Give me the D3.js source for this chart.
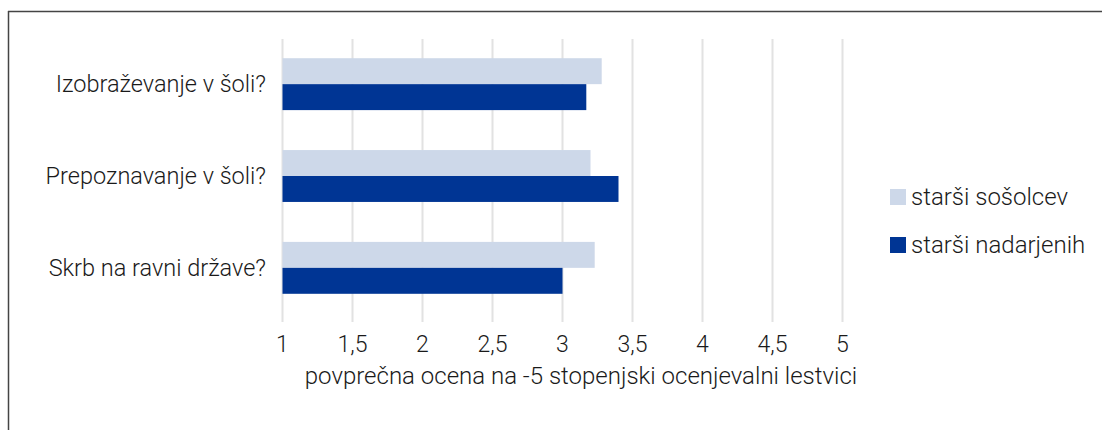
<!DOCTYPE html>
<html>
<head>
<meta charset="utf-8">
<script src="https://cdn.jsdelivr.net/npm/d3@7"></script>
<style>
  body { margin: 0; background: #fff; }
  text { font-family: Roboto, "DejaVu Sans", sans-serif; font-weight: 300; fill: #1a1a1a; }
</style>
</head>
<body>
<svg id="chart" width="1102" height="430"></svg>
<script>
// data
const categories = ['Izobraževanje v šoli?', 'Prepoznavanje v šoli?', 'Skrb na ravni države?'];
const seriesNames = ['starši sošolcev', 'starši nadarjenih'];
const sosolcev = [3.28, 3.20, 3.23];
const nadarjenih = [3.17, 3.40, 3.00];
const tickValues = [1, 1.5, 2, 2.5, 3, 3.5, 4, 4.5, 5];
const colors = ['#cdd8e9', '#003594'];

const svg = d3.select('#chart');

// frame (top and left lines only)
svg.append('line').attr('x1', 8).attr('x2', 1102).attr('y1', 11.5).attr('y2', 11.5)
  .attr('stroke', '#444').attr('stroke-width', 1.5);
svg.append('line').attr('x1', 8.5).attr('x2', 8.5).attr('y1', 11).attr('y2', 430)
  .attr('stroke', '#444').attr('stroke-width', 1.5);

const x = d3.scaleLinear().domain([1, 5]).range([282.5, 842.5]);
const y = d3.scaleBand().domain(categories).range([38, 314]).paddingInner(0.435).paddingOuter(0.22);
const ySub = d3.scaleBand().domain(seriesNames).range([0, y.bandwidth()]);

// gridlines
svg.append('g').selectAll('line')
  .data(tickValues)
  .join('line')
  .attr('x1', d => x(d)).attr('x2', d => x(d))
  .attr('y1', 39).attr('y2', 322)
  .attr('stroke', '#e2e2e2').attr('stroke-width', 2);

// bars
const rows = categories.map((c, i) => ({ cat: c, vals: [sosolcev[i], nadarjenih[i]] }));
const group = svg.append('g').selectAll('g')
  .data(rows)
  .join('g')
  .attr('transform', d => `translate(0,${y(d.cat)})`);

group.selectAll('rect')
  .data(d => d.vals.map((v, j) => ({ name: seriesNames[j], v, j })))
  .join('rect')
  .attr('x', x(1))
  .attr('y', d => ySub(d.name))
  .attr('width', d => x(d.v) - x(1))
  .attr('height', ySub.bandwidth())
  .attr('fill', d => colors[d.j]);

// category labels
svg.append('g').selectAll('text')
  .data(categories)
  .join('text')
  .attr('x', 266)
  .attr('y', d => y(d) + y.bandwidth() / 2)
  .attr('dy', '0.33em')
  .attr('text-anchor', 'end')
  .style('font-size', '23.5px')
  .text(d => d);

// x tick labels
const fmt = d => String(d).replace('.', ',');
svg.append('g').selectAll('text')
  .data(tickValues)
  .join('text')
  .attr('x', d => x(d))
  .attr('y', 352)
  .attr('text-anchor', 'middle')
  .style('font-size', '23px')
  .text(fmt);

// axis title
svg.append('text')
  .attr('x', 581)
  .attr('y', 384)
  .attr('text-anchor', 'middle')
  .style('font-size', '24px')
  .text('povprečna ocena na -5 stopenjski ocenjevalni lestvici');

// legend
const legend = svg.append('g').selectAll('g')
  .data(seriesNames)
  .join('g')
  .attr('transform', (d, i) => `translate(890,${189 + i * 48})`);
legend.append('rect')
  .attr('width', 16).attr('height', 16)
  .attr('fill', (d, i) => colors[i]);
legend.append('text')
  .attr('x', 21).attr('y', 16)
  .style('font-size', '24px')
  .text(d => d);
</script>
</body>
</html>
